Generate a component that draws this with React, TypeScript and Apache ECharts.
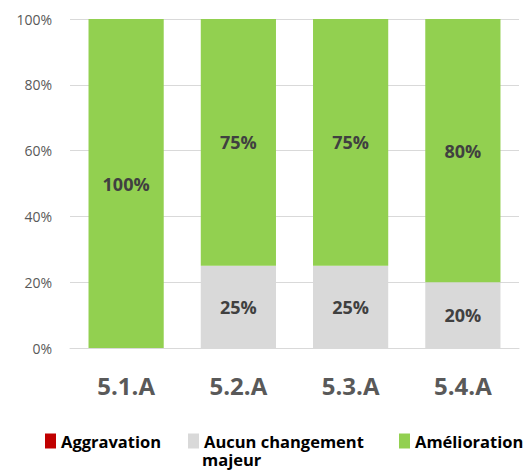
import React, { useEffect, useRef } from "react";
import * as echarts from "echarts";

const categories = ["5.1.A", "5.2.A", "5.3.A", "5.4.A"];
const aggravation = [0, 0, 0, 0];
const aucunChangement = [0, 25, 25, 20];
const amelioration = [100, 75, 75, 80];
const yTicks = [0, 20, 40, 60, 80, 100];

const FONT = "'Open Sans', 'Liberation Sans', sans-serif";

export default function App() {
  const ref = useRef<HTMLDivElement>(null);
  useEffect(() => {
    if (!ref.current) return;
    const chart = echarts.init(ref.current, undefined, { renderer: "svg" });
    const valLabel = (show: boolean) => ({
      show,
      position: "inside" as const,
      formatter: (p: any) => (p.value > 0 ? p.value + "%" : ""),
      fontFamily: FONT,
      fontWeight: "bold" as const,
      fontSize: 18,
      color: "#404040",
    });
    const legendBase = {
      top: 427,
      itemWidth: 11,
      itemHeight: 15,
      icon: "rect",
      textStyle: {
        fontFamily: FONT,
        fontWeight: "bold" as const,
        fontSize: 16.5,
        color: "#000000",
        lineHeight: 18,
      },
      itemGap: 4,
      selectedMode: false,
    };
    chart.setOption({
      animation: false,
      grid: { left: 70, right: 9, top: 19, bottom: 124, containLabel: false },
      legend: [
        { ...legendBase, left: 40, data: ["Aggravation"] },
        {
          ...legendBase,
          left: 183,
          data: ["Aucun changement majeur"],
          formatter: () => "Aucun changement",
        },
        { ...legendBase, left: 394, data: ["Amélioration"] },
      ],
      graphic: [
        {
          type: "text",
          left: 202,
          top: 450,
          style: {
            text: "majeur",
            font: "bold 16.5px " + FONT,
            lineHeight: 18,
            fill: "#000000",
          },
        },
      ],
      xAxis: {
        type: "category",
        data: categories,
        axisLine: { show: true, lineStyle: { color: "#D9D9D9", width: 1 } },
        axisTick: { show: false },
        axisLabel: {
          fontFamily: FONT,
          fontWeight: "bold",
          fontSize: 24,
          color: "#595959",
          margin: 25,
        },
      },
      yAxis: {
        type: "value",
        min: 0,
        max: 100,
        interval: 20,
        axisLine: { show: false },
        axisTick: { show: false },
        splitLine: { show: true, lineStyle: { color: "#D9D9D9", width: 1 } },
        axisLabel: {
          formatter: (v: number) => (yTicks.includes(v) ? v + "%" : ""),
          fontFamily: FONT,
          fontSize: 14,
          color: "#595959",
          margin: 18,
        },
      },
      series: [
        {
          name: "Aggravation",
          type: "bar",
          stack: "total",
          data: aggravation,
          barWidth: "67%",
          itemStyle: { color: "#C00000" },
          label: valLabel(false),
        },
        {
          name: "Aucun changement majeur",
          type: "bar",
          stack: "total",
          data: aucunChangement,
          barWidth: "67%",
          itemStyle: { color: "#D9D9D9" },
          label: valLabel(true),
        },
        {
          name: "Amélioration",
          type: "bar",
          stack: "total",
          data: amelioration,
          barWidth: "67%",
          itemStyle: { color: "#92D050" },
          label: valLabel(true),
        },
      ],
    });
    return () => chart.dispose();
  }, []);
  return <div ref={ref} style={{ width: 528, height: 472, position: "absolute", left: 0, top: 0 }} />;
}
